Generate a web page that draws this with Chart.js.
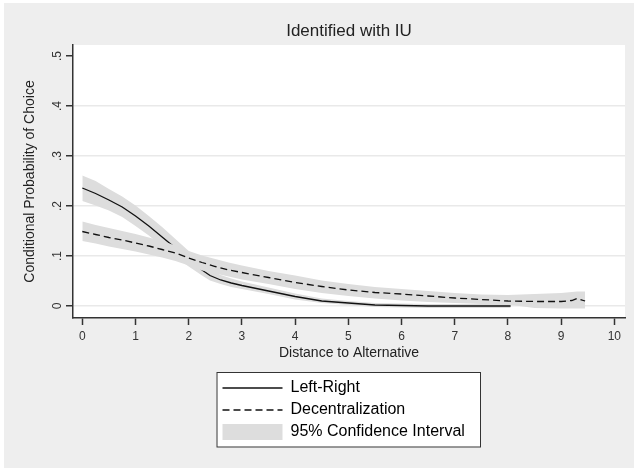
<!DOCTYPE html>
<html>
<head>
<meta charset="utf-8">
<script src="https://cdn.jsdelivr.net/npm/chart.js@4.4.0/dist/chart.umd.min.js"></script>
<style>
  body { margin: 0; background: #fff; overflow: hidden; }
  canvas { display: block; }
</style>
</head>
<body>
<canvas id="choiceChart" width="634" height="468"></canvas>
<script>
// ************** data ****************************************
const xTicks = [0, 1, 2, 3, 4, 5, 6, 7, 8, 9, 10];
const yTicks = [0, 0.1, 0.2, 0.3, 0.4, 0.5];
const yTickLabels = ["0", ".1", ".2", ".3", ".4", ".5"];
const legendLabels = ["Left-Right", "Decentralization", "95% Confidence Interval"];

// Left-Right
const distLR = [0, 0.25, 0.5, 0.75, 1, 1.25, 1.5, 1.75, 2, 2.25, 2.4, 2.6, 2.8, 3, 3.5, 4, 4.5, 5, 5.5, 6, 6.5, 7, 7.5, 8.05];
const probLR = [.236, .225, .212, .198, .180, .160, .138, .116, .094, .072, .061, .052, .046, .041, .030, .019, .010, .006, .002, .001, .000, .000, .000, .000];
const hiLR = [.261, .250, .234, .219, .201, .180, .158, .134, .110, .085, .073, .062, .055, .049, .037, .025, .015, .010, .006, .005, .004, .004, .004, .004];
const loLR = [.210, .201, .191, .178, .160, .141, .119, .098, .079, .061, .051, .044, .038, .034, .024, .013, .006, .002, -.002, -.003, -.004, -.004, -.004, -.004];

// Decentralization
const distDec = [0, 0.25, 0.5, 0.75, 1, 1.25, 1.5, 1.75, 2, 2.25, 2.5, 2.75, 3, 3.5, 4, 4.5, 5, 5.5, 6, 6.5, 7, 7.5, 8, 8.5, 9, 9.2, 9.3, 9.45];
const probDec = [.149, .143, .137, .132, .126, .120, .113, .106, .096, .087, .079, .072, .067, .057, .047, .039, .032, .027, .024, .020, .016, .013, .010, .009, .009, .011, .015, .010];
const hiDec = [.169, .162, .156, .150, .144, .137, .130, .121, .110, .101, .094, .087, .081, .070, .061, .051, .044, .038, .034, .030, .026, .023, .022, .024, .026, .028, .029, .029];
const loDec = [.130, .125, .119, .114, .109, .103, .097, .090, .081, .071, .065, .059, .053, .044, .034, .026, .020, .015, .011, .008, .006, .004, .003, -.004, -.005, -.005, -.005, -.005];

const pts = (xs, ys) => xs.map((x, i) => ({ x: x, y: ys[i] }));

const bandGray = '#dddddd';
const ink = '#111111';

Chart.defaults.font.family = "'Liberation Sans', Arial, sans-serif";

// grey page, white plot region and the framed legend
const stataFrame = {
    id: 'stataFrame',
    afterLayout(chart) {
        const lg = chart.legend;
        lg.left = 216.5; lg.right = 480;
        lg.top = 374; lg.bottom = 447.5;
        lg.width = lg.right - lg.left;
        lg.height = lg.bottom - lg.top;
    },
    beforeDraw(chart) {
        const ctx = chart.ctx;
        const a = chart.chartArea;
        const lg = chart.legend;
        ctx.save();
        ctx.fillStyle = '#ffffff';
        ctx.fillRect(0, 0, chart.width, chart.height);
        ctx.fillStyle = '#eeeeee';
        ctx.fillRect(4, 3, chart.width - 4, chart.height - 3);
        ctx.fillStyle = '#ffffff';
        ctx.fillRect(a.left, a.top, a.right - a.left, a.bottom - a.top);
        ctx.fillRect(lg.left, lg.top - 1.5, lg.width, lg.height + 1.5);
        ctx.strokeStyle = '#333333';
        ctx.lineWidth = 1;
        ctx.strokeRect(lg.left + 0.5, lg.top - 1.5, lg.width, lg.height + 1);
        ctx.restore();
    }
};

new Chart(document.getElementById('choiceChart'), {
    type: 'line',
    data: {
        datasets: [{
            label: 'Left-Right lower', data: pts(distLR, loLR),
            borderWidth: 0, borderColor: 'transparent', pointRadius: 0, fill: false, order: 3
        }, {
            label: 'Left-Right upper', data: pts(distLR, hiLR),
            borderWidth: 0, borderColor: 'transparent', pointRadius: 0,
            backgroundColor: bandGray, fill: '-1', order: 3
        }, {
            label: legendLabels[0], data: pts(distLR, probLR),
            borderWidth: 1.3, borderColor: ink, pointRadius: 0, fill: false, order: 2
        }, {
            label: 'Decentralization lower', data: pts(distDec, loDec),
            borderWidth: 0, borderColor: 'transparent', pointRadius: 0, fill: false, order: 1
        }, {
            label: 'Decentralization upper', data: pts(distDec, hiDec),
            borderWidth: 0, borderColor: 'transparent', pointRadius: 0,
            backgroundColor: bandGray, fill: '-1', order: 1
        }, {
            label: legendLabels[1], data: pts(distDec, probDec),
            borderWidth: 1.3, borderColor: ink, borderDash: [7, 4], pointRadius: 0, fill: false, order: 0
        }]
    },
    options: {
        responsive: false,
        animation: false,
        devicePixelRatio: 1,
        layout: { padding: { left: 0, right: 9, top: 0, bottom: 106.6 } },
        plugins: {
            title: {
                display: true,
                text: 'Identified with IU',
                fullSize: false,
                color: '#222222',
                font: { size: 17, weight: 'normal' },
                padding: { top: 20.8, bottom: 3.8 }
            },
            legend: {
                position: 'chartArea',
                align: 'start',
                labels: {
                    usePointStyle: true,
                    pointStyleWidth: 60,
                    boxHeight: 16,
                    padding: 6,
                    color: '#111111',
                    font: { size: 16 },
                    generateLabels: () => [
                        { text: legendLabels[0], pointStyle: 'line', strokeStyle: ink, fillStyle: ink, lineWidth: 1.3, lineDash: [], hidden: false, datasetIndex: 2 },
                        { text: legendLabels[1], pointStyle: 'line', strokeStyle: ink, fillStyle: ink, lineWidth: 1.3, lineDash: [7, 4], hidden: false, datasetIndex: 5 },
                        { text: legendLabels[2], pointStyle: 'rect', strokeStyle: bandGray, fillStyle: bandGray, lineWidth: 0, lineDash: [], hidden: false, datasetIndex: 4 }
                    ]
                }
            },
            tooltip: { enabled: false }
        },
        scales: {
            x: {
                type: 'linear',
                min: -0.175,
                max: 10.2,
                afterBuildTicks: (scale) => { scale.ticks = xTicks.map(v => ({ value: v })); },
                afterFit: (scale) => { scale.height = 43.4; },
                ticks: { color: '#333333', font: { size: 12 }, padding: 4, maxRotation: 0, autoSkip: false },
                grid: { drawOnChartArea: false, drawTicks: true, tickLength: 7, tickColor: '#333333', tickWidth: 1.5 },
                border: { color: '#333333', width: 1.5 },
                title: {
                    display: true, text: 'Distance to Alternative', color: '#222222',
                    font: { size: 14 }, padding: { top: 0, bottom: 0 }
                }
            },
            y: {
                type: 'linear',
                min: -0.024,
                max: 0.522,
                afterBuildTicks: (scale) => { scale.ticks = yTicks.map(v => ({ value: v })); },
                afterFit: (scale) => { scale.width = 73; },
                ticks: {
                    color: '#333333', font: { size: 12 }, padding: 3,
                    minRotation: 90, maxRotation: 90, crossAlign: 'center', autoSkip: false,
                    callback: (value, index) => yTickLabels[index]
                },
                grid: {
                    color: (c) => (c.tick && c.tick.value >= 0.5 ? 'rgba(0,0,0,0)' : '#e9e9e9'),
                    lineWidth: 1.5,
                    tickLength: 7, tickColor: '#333333', tickWidth: 1.5
                },
                border: { color: '#333333', width: 1.5 },
                title: {
                    display: true, text: 'Conditional Probability of Choice', color: '#222222',
                    font: { size: 14 }, padding: { top: 21.6, bottom: 0 }
                }
            }
        }
    },
    plugins: [stataFrame]
});
</script>
</body>
</html>
